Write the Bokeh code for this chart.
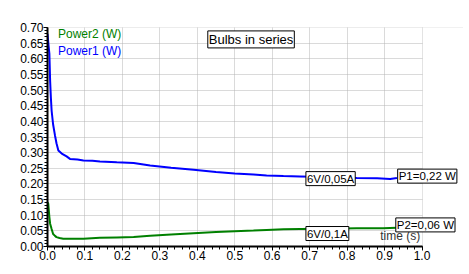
from bokeh.plotting import figure
from bokeh.models import Range1d, SingleIntervalTicker, PrintfTickFormatter, Label, BoxAnnotation
from bokeh.embed import file_html
from bokeh.resources import INLINE

t1 = [0, 0.003, 0.005, 0.007, 0.009, 0.011, 0.015, 0.02, 0.024, 0.029, 0.038, 0.051, 0.06, 0.08,
      0.096, 0.12, 0.14, 0.185, 0.23, 0.274, 0.33, 0.39, 0.45, 0.5, 0.55, 0.585, 0.63, 0.674,
      0.75, 0.826, 0.88, 0.915, 0.933]
power1 = [0.68, 0.64, 0.617, 0.53, 0.476, 0.434, 0.39, 0.355, 0.33, 0.307, 0.297, 0.288, 0.28, 0.278,
          0.275, 0.274, 0.272, 0.269, 0.267, 0.259, 0.252, 0.245, 0.238, 0.233, 0.23, 0.227, 0.225, 0.224,
          0.222, 0.219, 0.218, 0.216, 0.219]
t2 = [0, 0.002, 0.005, 0.007, 0.011, 0.015, 0.02, 0.024, 0.032, 0.042, 0.07, 0.096, 0.14, 0.185,
      0.23, 0.274, 0.33, 0.39, 0.45, 0.5, 0.55, 0.585, 0.63, 0.674, 0.75, 0.826, 0.896, 0.933]
power2 = [0.1415, 0.137, 0.094, 0.073, 0.056, 0.04, 0.034, 0.03, 0.027, 0.025, 0.025, 0.025, 0.028, 0.029,
          0.03, 0.034, 0.038, 0.0425, 0.046, 0.049, 0.051, 0.053, 0.055, 0.056, 0.057, 0.058, 0.058, 0.06]

FONT = "Liberation Sans"
X_MAX = 1.0
Y_MAX = 0.7

p = figure(width=469, height=274, output_backend="svg", toolbar_location=None,
           x_range=Range1d(0, 1.1108), y_range=Range1d(0, Y_MAX + 1e-4))
p.min_border_left = 47
p.min_border_right = 6
p.min_border_top = 27
p.min_border_bottom = 28
p.outline_line_color = None
p.background_fill_color = "white"
p.border_fill_color = "white"

p.xaxis.ticker = SingleIntervalTicker(interval=0.1, num_minor_ticks=5)
p.yaxis.ticker = SingleIntervalTicker(interval=0.05, num_minor_ticks=5)
p.xaxis.formatter = PrintfTickFormatter(format="%.1f")
p.yaxis.formatter = PrintfTickFormatter(format="%.2f")
p.xaxis.bounds = (0, X_MAX)
for ax in (p.xaxis, p.yaxis):
    ax.axis_line_color = "black"
    ax.axis_line_width = 2
    ax.major_tick_line_color = "black"
    ax.minor_tick_line_color = "black"
    ax.major_tick_in = 0
    ax.minor_tick_in = 0
    ax.major_tick_out = 4
    ax.minor_tick_out = 3
    ax.major_label_standoff = 0
    ax.major_label_text_font = FONT
    ax.major_label_text_font_size = "12px"
    ax.major_label_text_color = "black"

p.grid.grid_line_color = "#b4b4b4"
p.grid.grid_line_dash = "1 1"
p.grid.grid_line_width = 1

# white mask beyond x = 1.0 so grid stops at the last tick
p.add_layout(BoxAnnotation(left=X_MAX + 0.002, fill_color="white", fill_alpha=1.0,
                           line_color=None, level="underlay"))

p.line(t2, power2, line_color="#008000", line_width=2)
p.line(t1, power1, line_color="#0000ff", line_width=2)

p.add_layout(Label(x=0.028, y=0.68, text="Power2 (W)", text_color="#008000",
                   text_font=FONT, text_font_size="12px", text_baseline="middle"))
p.add_layout(Label(x=0.028, y=0.626, text="Power1 (W)", text_color="#0000ff",
                   text_font=FONT, text_font_size="12px", text_baseline="middle"))

p.add_layout(Label(x=0.995, y=0.033, text="time (s)", text_color="#333333",
                   text_font=FONT, text_font_size="12px", text_baseline="middle", text_align="right"))

def boxed(x, y, txt, size="11px", pad=1):
    return Label(x=x, y=y, text=txt, text_color="black", text_font=FONT, text_font_size=size,
                 text_baseline="middle", text_align="left",
                 background_fill_color="white", border_line_color="black", border_line_width=1,
                 padding=pad)

p.add_layout(boxed(0.428, 0.662, "Bulbs in series", size="13px", pad=1))
p.add_layout(boxed(0.69, 0.217, "6V/0,05A", size="11.5px"))
p.add_layout(boxed(0.935, 0.225, "P1=0,22 W", size="11.5px"))
p.add_layout(boxed(0.69, 0.0415, "6V/0,1A", size="11.5px"))
p.add_layout(boxed(0.93, 0.069, "P2=0,06 W", size="11.5px"))

open("out.html", "w").write(file_html(p, INLINE))
